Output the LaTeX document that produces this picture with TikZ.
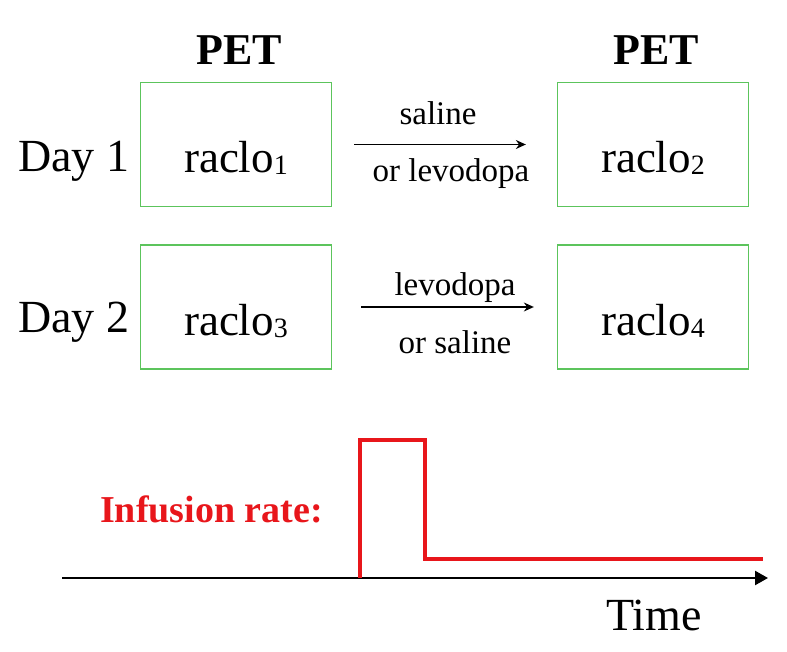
\documentclass[tikz,border=0pt]{standalone}
\usepackage{fontspec}
\setmainfont{Liberation Serif}
\usepackage{xcolor}
\definecolor{petgreen}{HTML}{5CC45C}
\definecolor{infred}{HTML}{E8161B}
\usetikzlibrary{arrows.meta,positioning}
\newcommand{\scansub}[1]{{\fontsize{28}{28}\selectfont\raisebox{-2pt}{#1}}}
\tikzset{
  petbox/.style ={draw=petgreen,line width=1.3pt,minimum width=191pt,
                  minimum height=124pt,inner sep=0pt,
                  font=\fontsize{45}{52}\selectfont,
                  text height=56pt,text depth=0pt},
  daylbl/.style ={font=\fontsize{46}{52}\selectfont,anchor=base west,inner sep=0pt},
  petlbl/.style ={font=\fontsize{44}{50}\selectfont\bfseries,anchor=base,inner sep=0pt},
  druglbl/.style={font=\fontsize{33}{38}\selectfont,anchor=base,inner sep=0pt},
  drug/.style   ={-{Stealth[length=10pt,width=9pt]},line width=1.3pt},
  axis/.style   ={-{Triangle[length=13pt,width=14pt]},line width=2.4pt},
  rate/.style   ={draw=infred,line width=3.6pt,line join=miter},
}
\begin{document}
\begin{tikzpicture}[x=1pt,y=-1pt]
\useasboundingbox (0,0) rectangle (787,652);
% headers
\node[petlbl] (pet1) at (239,65) {PET};
\node[petlbl] (pet2) at (656,65) {PET};
\node[daylbl] (day1) at (18,172) {Day 1};
\node[daylbl] (day2) at (18,333) {Day 2};
% scans
\node[petbox] (b1) at (236,144.5) {raclo\scansub{1}};
\node[petbox] (b2) at (653,144.5) {raclo\scansub{2}};
\node[petbox] (b3) at (236,307)   {raclo\scansub{3}};
\node[petbox] (b4) at (653,307)   {raclo\scansub{4}};
% infusions
\draw[drug,shorten <=22pt,shorten >=31pt] (b1) -- (b2);
\draw[drug,shorten <=29pt,shorten >=23pt] (b3) -- (b4);
\node[druglbl] (d1a) at (438,125) {saline};
\node[druglbl] (d1b) at (451,182) {or levodopa};
\node[druglbl] (d2a) at (455,296) {levodopa};
\node[druglbl] (d2b) at (455,353) {or saline};
% time course
\coordinate (t0) at (62,578);
\coordinate (t1) at (768,578);
\draw[axis] (t0) -- (t1);
\draw[rate] (360,578) -- (360,440) -- (425,440) -- (425,559) -- (763,559);
\node[font=\fontsize{38}{44}\selectfont\bfseries,text=infred,anchor=base west,inner sep=0pt]
  (inf) at (100,522) {Infusion rate:};
\node[daylbl] (time) at (606,630) {Time};
\end{tikzpicture}
\end{document}
